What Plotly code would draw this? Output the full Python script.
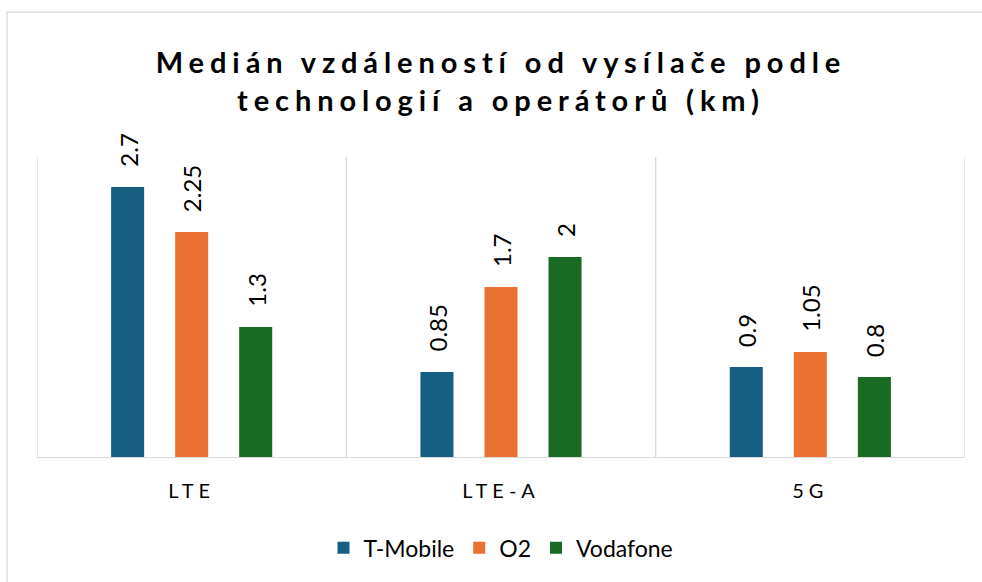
import plotly.graph_objects as go

categories = ["LTE", "LTE-A", "5G"]
operators = ["T-Mobile", "O2", "Vodafone"]
tmobile = [2.7, 0.85, 0.9]
o2 = [2.25, 1.7, 1.05]
vodafone = [1.3, 2.0, 0.8]
colors = ["#156082", "#E97132", "#196B24"]
series = [tmobile, o2, vodafone]

title_text = "Medián vzdáleností od vysílače podle<br>technologií a operátorů (km)"

fig = go.Figure()
for name, vals, col in zip(operators, series, colors):
    fig.add_trace(go.Bar(x=categories, y=vals, name=name, marker_color=col,
                         marker_line_width=0))

# data labels as annotations, shifted by group offset
slot_px = 64
for i, vals in enumerate(series):
    for c, v in zip(categories, vals):
        fig.add_annotation(x=c, y=v, xref="x", yref="y", text=f"{v:g}",
                           textangle=-90, showarrow=False, yanchor="bottom",
                           xshift=(i - 1) * slot_px, yshift=18,
                           font=dict(family="Lato", size=24, color="#000000"))

# category separators
for b in [-0.5, 0.5, 1.5, 2.5]:
    fig.add_shape(type="line", xref="x", yref="paper", x0=b, x1=b, y0=0, y1=1,
                  line=dict(color="#D9D9D9", width=1.3), layer="below")

# outer chart border
fig.add_shape(type="rect", xref="paper", yref="paper", x0=-0.0323, x1=1.1,
              y0=-0.6, y1=1.483, line=dict(color="#D9D9D9", width=1.3))

fig.update_layout(
    width=982, height=582,
    margin=dict(l=37, r=17, t=157, b=125),
    paper_bgcolor="white", plot_bgcolor="white",
    title=dict(text=title_text, x=0.5, xanchor="center", xref="paper",
               y=1 - 73 / 582, yanchor="middle",
               font=dict(family="Lato", size=29, color="#000000", weight="bold")),
    barmode="group", bargap=0.379, bargroupgap=0.484,
    xaxis=dict(range=[-0.5, 2.5], showline=True, linecolor="#D9D9D9", linewidth=1.3,
               ticks="", showgrid=False, ticklabelstandoff=16,
               tickfont=dict(family="Lato", size=20, color="#000000")),
    yaxis=dict(range=[0, 3], visible=False, showgrid=False),
    legend=dict(orientation="h", x=0.5, xanchor="center", y=-0.303, yanchor="middle",
                font=dict(family="Lato", size=23, color="#000000"),
                itemwidth=30),
    showlegend=True,
)

post = """
var s = document.createElement('style');
s.innerHTML = 'body{margin:0;} .gtitle{letter-spacing:5.9px;} .xtick text{letter-spacing:5px;}';
document.head.appendChild(s);
"""
fig.write_html("out.html", post_script=post, config={"displayModeBar": False})
